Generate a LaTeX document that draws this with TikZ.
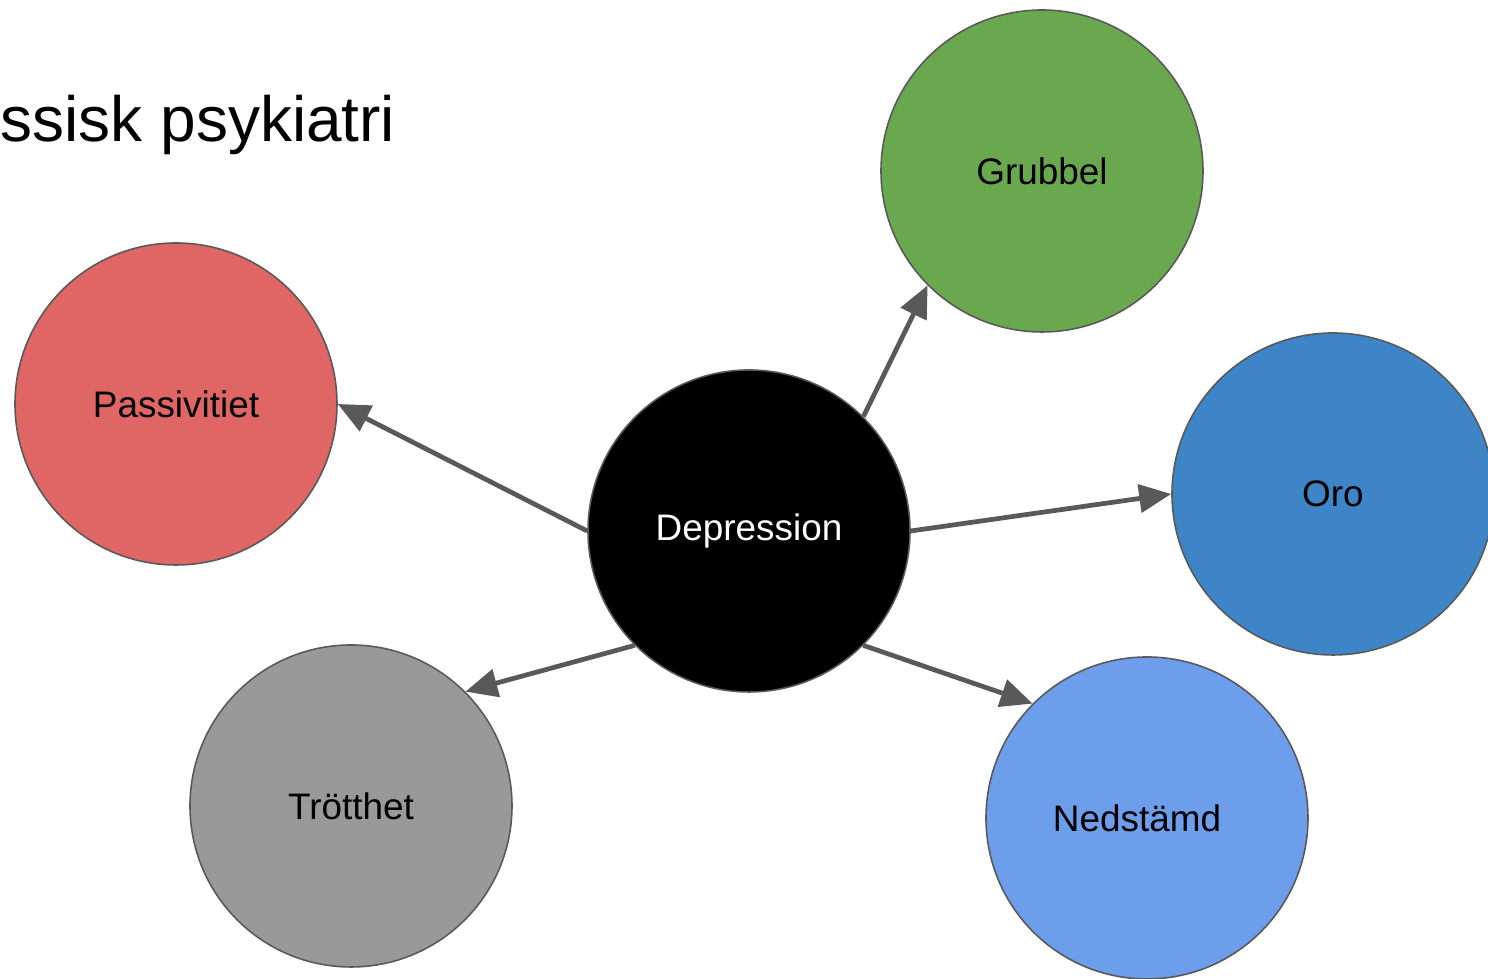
\documentclass[tikz,border=0pt]{standalone}
\usepackage{fontspec}
\setmainfont{Liberation Sans}
\usetikzlibrary{arrows.meta}
\definecolor{rimgray}{HTML}{595959}
\definecolor{linkgray}{HTML}{595959}
\definecolor{grubbelgreen}{HTML}{6AA84F}
\definecolor{passivred}{HTML}{E06666}
\definecolor{oroblue}{HTML}{3D85C6}
\definecolor{trottgray}{HTML}{999999}
\definecolor{nedblue}{HTML}{6D9EEB}
\tikzset{
	bubble/.style={circle, draw=rimgray, line width=0.45pt, minimum size=3.22cm, inner sep=0pt, font=\fontsize{10.5}{12}\selectfont},
	link/.style={draw=linkgray, line width=1.35pt, -{Triangle[length=0.32cm, width=0.28cm]}}
}

\begin{document}
\begin{tikzpicture}
			%%%%% START %%%%%
			
			\clip (0, 0) rectangle (14.88, 9.79);
			
			\node[anchor=base west, inner sep=0pt, font=\fontsize{18.2}{22}\selectfont] (title) at (0.0, 8.37) {ssisk psykiatri};
			
			\node[bubble, fill=black, text=white] (dep) at (7.49, 4.48) {Depression};
			\node[bubble, fill=grubbelgreen] (grub) at (10.42, 8.08) {Grubbel};
			\node[bubble, fill=passivred] (pass) at (1.76, 5.75) {Passivitiet};
			\node[bubble, fill=oroblue] (oro) at (13.33, 4.85) {Oro};
			\node[bubble, fill=trottgray] (trott) at (3.51, 1.73) {Trötthet};
			\node[bubble, fill=nedblue] (ned) at (11.47, 1.61) {Nedstämd\hspace*{0.2cm}};
			
			\draw[link] (dep.north east) -- (grub.south west);
			\draw[link] (dep.west) -- (pass.east);
			\draw[link] (dep.east) -- (oro.west);
			\draw[link] (dep.south west) -- (trott.north east);
			\draw[link] (dep.south east) -- (ned.north west);
			
			%%%%% END %%%%%
\end{tikzpicture}
\end{document}
